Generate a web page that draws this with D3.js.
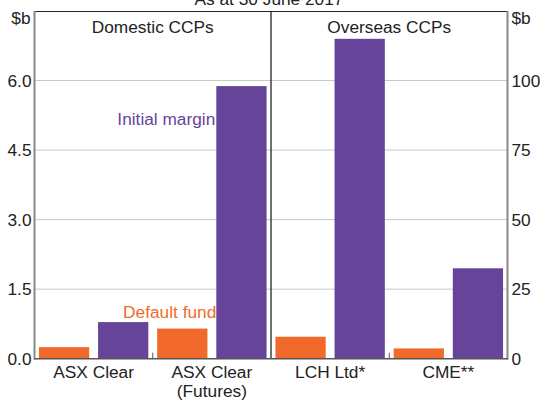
<!DOCTYPE html>
<html>
<head>
<meta charset="utf-8">
<script src="https://cdn.jsdelivr.net/npm/d3@7"></script>
<style>
body{margin:0;background:#fff;}
text{font-family:Arial,"Liberation Sans",sans-serif;fill:#222;font-size:17.3px;}
</style>
</head>
<body>
<script>
// values, $b
let categories=["ASX Clear","ASX Clear (Futures)","LCH Ltd*","CME**"];
let series=["Default fund","Initial margin"];
let defaultFund=[0.25,0.65,7.9,3.7];
let initialMargin=[0.79,5.88,115,32.5];
let leftTicks=[0,1.5,3,4.5,6];
let rightTicks=[0,25,50,75,100];
let panels=["Domestic CCPs","Overseas CCPs"];

let W=540,H=402;
let m={l:34.5,r:32.5,t:11,b:43.3};
let colors={"Default fund":"#f26a2b","Initial margin":"#66449a"};

let svg=d3.select("body").append("svg").attr("width",W).attr("height",H);

let x=d3.scaleBand().domain(categories).range([m.l,W-m.r]).padding(0);
let xs=d3.scaleBand().domain(series).range([0,x.bandwidth()]).paddingInner(0.15).paddingOuter(0.075);
let yL=d3.scaleLinear().domain([0,7.5]).range([H-m.b,m.t]);
let yR=d3.scaleLinear().domain([0,125]).range([H-m.b,m.t]);

// gridlines
svg.append("g").selectAll("line").data(leftTicks.slice(1)).enter().append("line")
    .attr("x1",m.l).attr("x2",W-m.r)
    .attr("y1",d=>yL(d)).attr("y2",d=>yL(d))
    .style("stroke","#c8c8c8").style("stroke-width",1);

// bars
let rows=categories.map((c,i)=>({cat:c,i:i,vals:[defaultFund[i],initialMargin[i]]}));
svg.append("g").selectAll("g").data(rows).enter().append("g")
    .each(function(r){
        let y=r.i<2?yL:yR;
        d3.select(this).selectAll("rect").data(series).enter().append("rect")
            .attr("x",(s)=>x(r.cat)+xs(s))
            .attr("width",xs.bandwidth())
            .attr("y",(s,j)=>y(r.vals[j]))
            .attr("height",(s,j)=>y(0)-y(r.vals[j]))
            .style("fill",s=>colors[s]);
    });

// frame
let mid=x(categories[2]);
svg.append("line").attr("x1",m.l).attr("x2",W-m.r).attr("y1",m.t+0.5).attr("y2",m.t+0.5)
    .style("stroke","#222").style("stroke-width",1);
svg.append("line").attr("x1",mid).attr("x2",mid).attr("y1",m.t).attr("y2",H-m.b)
    .style("stroke","#111").style("stroke-width",1.2);
svg.append("line").attr("x1",m.l).attr("x2",m.l).attr("y1",m.t).attr("y2",H-m.b+1)
    .style("stroke","#888").style("stroke-width",2);
svg.append("line").attr("x1",W-m.r).attr("x2",W-m.r).attr("y1",m.t).attr("y2",H-m.b+1)
    .style("stroke","#888").style("stroke-width",2);
svg.append("line").attr("x1",m.l).attr("x2",W-m.r).attr("y1",H-m.b).attr("y2",H-m.b)
    .style("stroke","#555").style("stroke-width",1.5);
// small category ticks
svg.selectAll(".ctick").data([categories[1],categories[3]]).enter().append("line")
    .attr("x1",d=>x(d)).attr("x2",d=>x(d))
    .attr("y1",H-m.b).attr("y2",H-m.b-6)
    .style("stroke","#555").style("stroke-width",1);

// axis labels
svg.append("g").selectAll("text").data(leftTicks).enter().append("text")
    .attr("x",m.l-3).attr("y",d=>yL(d)).attr("dy","0.35em")
    .attr("text-anchor","end")
    .text(d=>d3.format(".1f")(d));
svg.append("g").selectAll("text").data(rightTicks).enter().append("text")
    .attr("x",W-m.r+4).attr("y",d=>yR(d)).attr("dy","0.35em")
    .attr("text-anchor","start")
    .text(d=>d);
svg.append("text").attr("x",m.l-4).attr("y",24).attr("text-anchor","end").text("$b");
svg.append("text").attr("x",W-m.r+4).attr("y",24).attr("text-anchor","start").text("$b");

// title (cut at top)
svg.append("text").attr("x",mid-2).attr("y",5).attr("text-anchor","middle")
    .text("As at 30 June 2017");

// panel titles
svg.selectAll(".ptitle").data(panels).enter().append("text")
    .attr("x",(d,i)=>i?(mid+W-m.r)/2:(m.l+mid)/2).attr("y",33)
    .attr("text-anchor","middle").text(d=>d);

// category labels
svg.append("g").selectAll("text").data(categories).enter().append("text")
    .attr("x",d=>x(d)+x.bandwidth()/2).attr("y",H-m.b+19)
    .attr("text-anchor","middle")
    .each(function(d){
        let parts=d.split(" (");
        let t=d3.select(this);
        t.append("tspan").attr("x",x(d)+x.bandwidth()/2).text(parts[0]);
        if(parts.length>1)
            t.append("tspan").attr("x",x(d)+x.bandwidth()/2).attr("dy","19.5px").text("("+parts[1]);
    });

// series labels
svg.append("text").attr("x",x(categories[1])+xs(series[1])-1).attr("y",125)
    .attr("text-anchor","end").style("fill",colors["Initial margin"])
    .text("Initial margin");
svg.append("text").attr("x",x(categories[1])+xs(series[1])).attr("y",318)
    .attr("text-anchor","end").style("fill",colors["Default fund"])
    .text("Default fund");
</script>
</body>
</html>
